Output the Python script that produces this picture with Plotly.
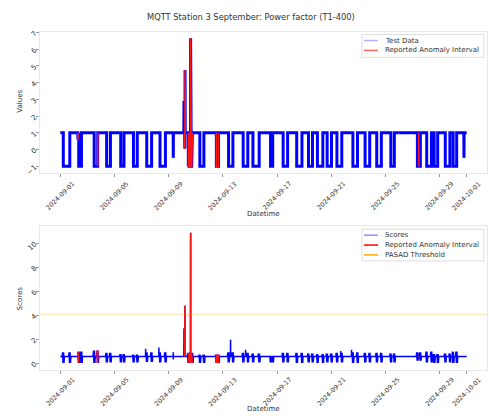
import pandas as pd
import plotly.graph_objects as go

START = pd.Timestamp("2024-09-01")

# Daily intervals (days since 1 Sept) where the power factor sits at -1
dip_start = [0.22, 1.36, 2.50, 3.42, 4.46, 5.40, 6.38, 7.36, 9.45, 10.30,
             11.52, 12.42, 13.50, 14.22, 15.52, 16.45, 17.45, 18.32, 18.98, 19.70,
             20.42, 21.60, 22.50, 23.36, 24.40, 26.36, 27.05, 27.60, 28.42, 29.00]
dip_end = [0.70, 1.56, 2.76, 3.70, 4.70, 5.68, 6.74, 7.76, 9.75, 10.60,
           11.68, 12.74, 13.84, 14.68, 15.68, 16.78, 17.84, 18.62, 19.38, 20.02,
           20.78, 21.94, 22.84, 23.70, 24.66, 26.58, 27.40, 27.86, 28.76, 29.26]

# Short excursions of the power factor (day, value)
blip_day = [1.30, 8.34, 9.13, 9.19, 9.21, 9.50, 9.55, 9.58, 9.62, 9.66, 9.71,
            25.00, 26.46, 29.80]
blip_value = [0.60, -0.50, 2.90, 0.05, 4.75, 1.00, 0.95, 1.00, 6.65, 0.90, 1.00,
              0.95, 1.00, -0.50]

# Reported anomaly intervals (days since 1 Sept)
anomaly_start = [1.27, 2.70, 9.17, 9.44, 11.50, 24.98, 26.42]
anomaly_end = [1.34, 2.80, 9.24, 9.76, 11.70, 25.04, 26.50]

# PASAD scores
score_base = 0.55
dip_score_peak = [0.90, 0.95, 1.05, 0.85, 0.75, 0.70, 0.90, 0.90, 0.85, 0.70,
                  0.70, 0.90, 0.85, 0.80, 0.60, 0.85, 0.85, 0.80, 0.75, 0.80,
                  0.85, 0.90, 0.85, 0.85, 0.80, 0.90, 0.95, 0.75, 0.80, 0.95]
dip_score_floor = [0.00, 0.00, 0.00, 0.05, 0.05, 0.05, 0.10, 0.05, 0.00, 0.00,
                   0.00, 0.05, 0.05, 0.05, 0.05, 0.05, 0.00, 0.05, 0.00, 0.05,
                   0.05, 0.00, 0.05, 0.05, 0.05, 0.20, 0.05, 0.00, 0.05, 0.00]
score_blip_day = [1.30, 6.30, 7.28, 8.34, 9.13, 9.20, 9.56, 9.62, 12.57, 13.68, 20.70, 21.50]
score_blip_peak = [0.55, 1.20, 1.30, 0.90, 2.90, 4.78, 0.90, 10.85, 1.95, 1.10, 1.00, 1.10]
score_blip_floor = [0.30, 0.50, 0.50, 0.30, 0.50, 0.55, 0.00, 0.00, 0.50, 0.50, 0.50, 0.50]
threshold = 4.05

tick_dates = ["2024-09-01", "2024-09-05", "2024-09-09", "2024-09-13", "2024-09-17",
              "2024-09-21", "2024-09-25", "2024-09-29", "2024-10-01"]


def in_dip(d):
    return any(s < d < e for s, e in zip(dip_start, dip_end))


# ---- power factor series -------------------------------------------------
pts = [(0.0, 1.0)]
for s, e in zip(dip_start, dip_end):
    pts += [(s, 1.0), (s, -1.0), (e, -1.0), (e, 1.0)]
for d, v in zip(blip_day, blip_value):
    lvl = -1.0 if in_dip(d) else 1.0
    pts += [(d - 0.01, lvl), (d, v), (d + 0.01, lvl)]
pts.append((30.0, 1.0))
pts.sort(key=lambda p: p[0])

# ---- score series --------------------------------------------------------
spts = [(0.0, score_base)]
for s, e, pk, fl in zip(dip_start, dip_end, dip_score_peak, dip_score_floor):
    for t in (s, e):
        spts += [(t - 0.08, score_base), (t - 0.05, pk), (t - 0.02, fl),
                 (t + 0.02, pk), (t + 0.05, fl), (t + 0.08, score_base)]
for d, pk, fl in zip(score_blip_day, score_blip_peak, score_blip_floor):
    spts += [(d - 0.01, score_base), (d, pk), (d + 0.005, fl), (d + 0.01, score_base)]
spts.append((30.0, score_base))
spts.sort(key=lambda p: p[0])


def to_time(days):
    return [START + pd.Timedelta(days=float(d)) for d in days]


def split(points):
    return to_time([p[0] for p in points]), [p[1] for p in points]


def anomaly_part(points):
    xs, ys = [], []
    for a, b in zip(anomaly_start, anomaly_end):
        seg = [p for p in points if a <= p[0] <= b]
        xs += to_time([p[0] for p in seg]) + [None]
        ys += [p[1] for p in seg] + [None]
    return xs, ys


tx, ty = split(pts)
rx, ry = anomaly_part(pts)
sx, sy = split(spts)
srx, sry = anomaly_part(spts)

FONT = "DejaVu Sans"
TXT = "#333333"
W, H = 489, 416


def px(x):
    return x / W


def py(y):
    return (H - y) / H


fig = go.Figure()
fig.add_trace(go.Scatter(x=tx, y=ty, mode="lines", line=dict(color="rgb(0,0,255)", width=3),
                         xaxis="x", yaxis="y", showlegend=False, hoverinfo="skip"))
fig.add_trace(go.Scatter(x=rx, y=ry, mode="lines", line=dict(color="rgb(255,20,20)", width=1.6),
                         xaxis="x", yaxis="y", showlegend=False, connectgaps=False, hoverinfo="skip"))
fig.add_trace(go.Scatter(x=sx, y=sy, mode="lines", line=dict(color="rgb(0,0,255)", width=1.5),
                         xaxis="x2", yaxis="y2", showlegend=False, hoverinfo="skip"))
fig.add_trace(go.Scatter(x=srx, y=sry, mode="lines", line=dict(color="rgb(255,20,20)", width=1.6),
                         xaxis="x2", yaxis="y2", showlegend=False, connectgaps=False, hoverinfo="skip"))

xrange = [START - pd.Timedelta(hours=36), START + pd.Timedelta(days=31, hours=12)]
axis_common = dict(showline=True, mirror=True, linecolor="#e8e8e8", linewidth=1,
                   showgrid=False, zeroline=False, ticks="outside", ticklen=3,
                   tickcolor="#999999", tickwidth=1,
                   tickfont=dict(family=FONT, size=7, color=TXT))

fig.update_layout(
    width=W, height=H, margin=dict(l=0, r=0, t=0, b=0),
    paper_bgcolor="white", plot_bgcolor="white",
    xaxis=dict(domain=[px(40), px(487)], anchor="y", type="date", range=xrange,
               tickvals=tick_dates, showticklabels=False, **axis_common),
    yaxis=dict(domain=[py(173), py(30)], anchor="x", range=[-1.4, 7.05],
               tickvals=list(range(-1, 8)), tickangle=-45, **axis_common),
    xaxis2=dict(domain=[px(40), px(487)], anchor="y2", type="date", range=xrange,
                tickvals=tick_dates, showticklabels=False, **axis_common),
    yaxis2=dict(domain=[py(372), py(227)], anchor="x2", range=[-0.54, 11.4],
                tickvals=[0, 2, 4, 6, 8, 10], tickangle=-45, **axis_common),
)

# PASAD threshold across the whole lower panel
fig.add_shape(type="line", xref="x2 domain", x0=0, x1=1, yref="y2", y0=threshold, y1=threshold,
              line=dict(color="rgba(255,165,0,0.25)", width=1))

ann = []
# rotated date labels, centred on their ticks
for xa, ytop in (("x", 179), ("x2", 377)):
    for d in tick_dates:
        ann.append(dict(x=d, xref=xa, y=py(ytop), yref="paper", text=d, showarrow=False,
                        textangle=-45, xanchor="center", yanchor="top", borderpad=0,
                        font=dict(family=FONT, size=6.4, color=TXT)))

ann += [
    dict(x=px(251), y=py(15), text="MQTT Station 3 September: Power factor (T1-400)",
         font=dict(family=FONT, size=8.3, color=TXT)),
    dict(x=px(263), y=py(215), text="Datetime", font=dict(family=FONT, size=7, color=TXT)),
    dict(x=px(263), y=py(412), text="Datetime", font=dict(family=FONT, size=7, color=TXT)),
    dict(x=px(20), y=py(101), text="Values", textangle=-90, font=dict(family=FONT, size=7, color=TXT)),
    dict(x=px(20), y=py(300), text="Scores", textangle=-90, font=dict(family=FONT, size=7, color=TXT)),
]
for a in ann[-5:]:
    a.update(xref="paper", yref="paper", showarrow=False, xanchor="center", yanchor="middle")


# legends
def legend(box, entries):
    x0, y0, x1, y1 = box
    fig.add_shape(type="rect", xref="paper", yref="paper", x0=px(x0), x1=px(x1),
                  y0=py(y1), y1=py(y0), line=dict(color="#dddddd", width=1),
                  fillcolor="rgba(255,255,255,0.85)", layer="above")
    for yy, color, label in entries:
        fig.add_shape(type="line", xref="paper", yref="paper", x0=px(x0 + 2), x1=px(x0 + 16),
                      y0=py(yy), y1=py(yy), line=dict(color=color, width=1.5), layer="above")
        ann.append(dict(x=px(x0 + 21), y=py(yy), xref="paper", yref="paper", text=label,
                        showarrow=False, xanchor="left", yanchor="middle",
                        font=dict(family=FONT, size=7, color=TXT)))


legend((362, 33, 484, 56), [(39, "rgba(0,0,255,0.3)", "Test Data"),
                            (49, "rgba(255,0,0,0.6)", "Reported Anomaly Interval")])
legend((362, 230, 484, 262), [(236, "rgba(0,0,255,0.45)", "Scores"),
                              (246, "rgb(255,0,0)", "Reported Anomaly Interval"),
                              (256, "rgb(255,165,0)", "PASAD Threshold")])

fig.update_layout(annotations=ann)
fig.write_html("out.html")
